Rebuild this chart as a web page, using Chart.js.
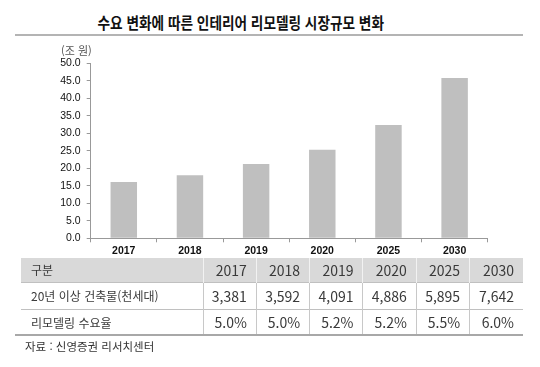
<!DOCTYPE html>
<html lang="ko">
<head>
<meta charset="utf-8">
<script src="https://cdn.jsdelivr.net/npm/chart.js@4.4.1/dist/chart.umd.min.js"></script>
<style>
  body { margin: 0; width: 540px; height: 367px; background: #fff; position: relative; overflow: hidden;
         font-family: "Noto Sans CJK KR", sans-serif; color: #333; }
  #title { position: absolute; left: 0; top: 12px; width: 481px; text-align: center; line-height: 20px; }
  #title span { display: inline-block; font-size: 15.5px; font-weight: 700; color: #111;
                transform: scaleX(0.88); white-space: nowrap; }
  #rule { position: absolute; left: 15px; top: 34px; width: 508px; height: 2px; background: #b4b4b4; }
  #chart { position: absolute; left: 0; top: 40px; }
  #unit { position: absolute; left: 61px; top: 42px; font-size: 11px; line-height: 16px; color: #555; }
  #tbl { position: absolute; left: 21px; top: 257.7px; width: 502px; border-collapse: collapse; table-layout: fixed; }
  #tbl td { font-family: "Liberation Sans Narrow", "Noto Sans CJK KR", sans-serif; font-size: 14px; color: #3a3a3a;
            text-align: right; padding: 0 9px 0 0; white-space: nowrap; }
  #tbl td.lbl { text-align: left; padding: 0 0 0 10px; font-size: 12px; }
  #tbl tr.head td { background: #d9d9d9; height: 24px; border-left: 1px solid #f2f2f2; }
  #tbl tr.head td.lbl { border-left: none; }
  #tbl tr.body td { border-left: 1px solid #c8c8c8; border-top: 1px solid #c0c0c0; }
  #tbl tr.body td.lbl { border-left: none; }
  #tbl tr.r1 td { height: 26px; }
  #tbl tr.r2 td { height: 25px; }
  #bottom { position: absolute; left: 15px; top: 334px; width: 508px; height: 1.5px; background: #a8a8a8; }
  #source { position: absolute; left: 25px; top: 337px; font-size: 11.5px; line-height: 18px; color: #333; }
</style>
</head>
<body>
<div id="title"><span>수요 변화에 따른 인테리어 리모델링 시장규모 변화</span></div>
<div id="rule"></div>
<canvas id="chart" width="540" height="220"></canvas>
<div id="unit">(조 원)</div>
<table id="tbl"></table>
<div id="bottom"></div>
<div id="source">자료 : 신영증권 리서치센터</div>
<script>
const years = ['2017', '2018', '2019', '2020', '2025', '2030'];
const marketSize = [16.1, 18.0, 21.2, 25.3, 32.4, 45.8];   // 조 원
const oldBuildings = [3381, 3592, 4091, 4886, 5895, 7642]; // 천세대
const demandRate = [5.0, 5.0, 5.2, 5.2, 5.5, 6.0];         // %
const rowLabels = ['구분', '20년 이상 건축물(천세대)', '리모델링 수요율'];
const yMin = 0, yMax = 50, yStep = 5;

new Chart(document.getElementById('chart'), {
  type: 'bar',
  data: {
    labels: years,
    datasets: [{
      data: marketSize,
      backgroundColor: '#bfbfbf',
      categoryPercentage: 1,
      barPercentage: 0.4
    }]
  },
  options: {
    responsive: false,
    animation: false,
    devicePixelRatio: 1,
    layout: { padding: { top: 23.3, right: 52.3, left: 0, bottom: 0 } },
    plugins: { legend: { display: false }, tooltip: { enabled: false } },
    scales: {
      x: {
        grid: { drawOnChartArea: false, tickLength: 4, color: '#999' },
        border: { color: '#999' },
        ticks: { padding: 3, color: '#111', font: { family: 'Liberation Sans', size: 10.5, weight: 'bold' } },
        afterFit: s => { s.height = 21.7; }
      },
      y: {
        min: yMin,
        max: yMax,
        grid: { drawOnChartArea: false, tickLength: 4, color: '#999' },
        border: { color: '#999' },
        ticks: { stepSize: yStep, padding: 6, color: '#111', font: { family: 'Liberation Sans', size: 10.5 },
                 callback: v => v.toFixed(1) },
        afterFit: s => { s.width = 90.7; }
      }
    }
  }
});

// table under the chart
const tbl = document.getElementById('tbl');
const rows = [
  { cls: 'head', cells: years },
  { cls: 'body r1', cells: oldBuildings.map(v => v.toLocaleString('en-US')) },
  { cls: 'body r2', cells: demandRate.map(v => v.toFixed(1) + '%') }
];
let html = '<colgroup><col style="width:182px">' + years.map(() => '<col style="width:53.33px">').join('') + '</colgroup>';
rows.forEach((r, i) => {
  html += '<tr class="' + r.cls + '"><td class="lbl">' + rowLabels[i] + '</td>' +
          r.cells.map(c => '<td>' + c + '</td>').join('') + '</tr>';
});
tbl.innerHTML = html;
</script>
</body>
</html>
